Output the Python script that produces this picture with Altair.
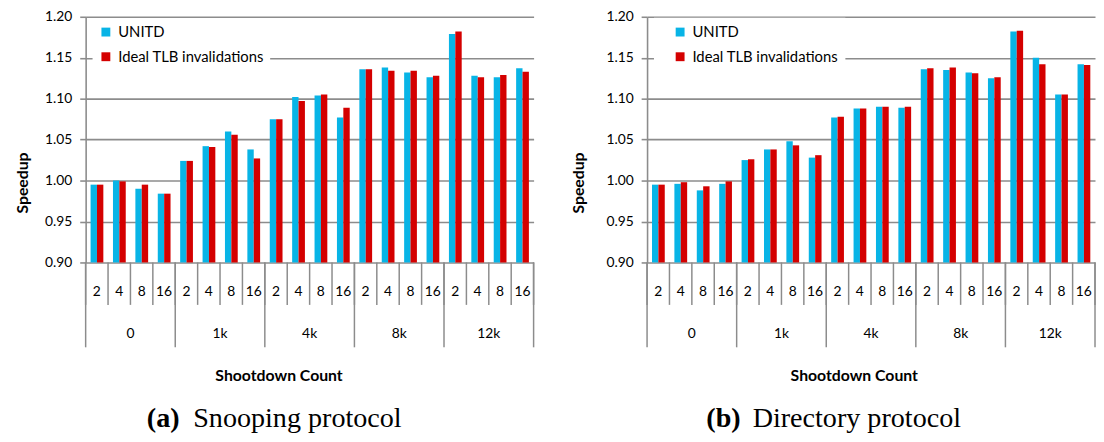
import altair as alt
import pandas as pd

groups = ["0", "1k", "4k", "8k", "12k"]
subs = ["2", "4", "8", "16"]
series = ["UNITD", "Ideal TLB invalidations"]
colors = ["#08b4e6", "#d40000"]
y_ticks = [0.90, 0.95, 1.00, 1.05, 1.10, 1.15, 1.20]

snoop_unitd = [0.995, 1.000, 0.990, 0.984, 1.024, 1.042, 1.060, 1.038,
               1.075, 1.102, 1.104, 1.077, 1.136, 1.138, 1.132, 1.126,
               1.179, 1.128, 1.126, 1.137]
snoop_ideal = [0.995, 0.999, 0.995, 0.984, 1.024, 1.041, 1.056, 1.027,
               1.075, 1.097, 1.105, 1.089, 1.136, 1.134, 1.134, 1.128,
               1.182, 1.126, 1.129, 1.133]
dir_unitd = [0.995, 0.996, 0.988, 0.996, 1.025, 1.038, 1.048, 1.028,
             1.077, 1.088, 1.090, 1.089, 1.136, 1.135, 1.132, 1.125,
             1.182, 1.150, 1.105, 1.142]
dir_ideal = [0.995, 0.998, 0.993, 0.999, 1.026, 1.038, 1.043, 1.031,
             1.078, 1.088, 1.090, 1.090, 1.137, 1.138, 1.131, 1.126,
             1.183, 1.142, 1.105, 1.141]

W, H = 454, 249
N = len(groups) * len(subs)
GRAY = "#8c8c8c"
FONT = "Lato"
SERIF = "Liberation Serif"

xscale = alt.Scale(domain=[0, N], nice=False, zero=False)
yscale = alt.Scale(domain=[0.9, 1.2], nice=False, zero=False)


def bars_df(unitd, ideal):
    rows = []
    for i in range(N):
        for s, vals in zip(series, (unitd, ideal)):
            rows.append({"idx": i, "group": groups[i // len(subs)],
                         "sub": subs[i % len(subs)], "series": s, "value": vals[i]})
    return pd.DataFrame(rows)


sub_df = pd.DataFrame({"idx": list(range(N)),
                       "sub": [subs[i % len(subs)] for i in range(N)]})
grp_df = pd.DataFrame({"gi": list(range(len(groups))), "group": groups})
sub_bounds = pd.DataFrame({"pos": list(range(N + 1))})
grp_bounds = pd.DataFrame({"pos": list(range(0, N + 1, len(subs)))})


def panel(unitd, ideal, tag, caption, title_x, xt_x, cap_tag_x, cap_x,
          leg_x, leg_y, leg_pad, sym_off):
    df = bars_df(unitd, ideal)
    bars = alt.Chart(df).transform_calculate(
        x0="datum.idx + (datum.series == 'UNITD' ? 0.22 : 0.505)",
        x1="datum.idx + (datum.series == 'UNITD' ? 0.505 : 0.79)",
    ).mark_bar().encode(
        x=alt.X("x0:Q", scale=xscale, axis=None),
        x2="x1:Q",
        y=alt.Y("value:Q", scale=yscale,
                axis=alt.Axis(values=y_ticks, format=".2f", title="Speedup",
                              grid=True, gridColor=GRAY, gridWidth=1.6,
                              domainColor=GRAY, domainWidth=1.6,
                              tickColor=GRAY, tickWidth=1.6, tickSize=6,
                              labelFont=FONT, labelFontSize=14, labelColor="black",
                              labelPadding=8,
                              titleFont=FONT, titleFontSize=16, titleFontWeight="bold",
                              titleColor="black", titleX=title_x, titleY=168,
                              titleAlign="center", titleBaseline="middle",
                              titleAngle=270)),
        y2=alt.datum(0.9),
        color=alt.Color("series:N", scale=alt.Scale(domain=series, range=colors),
                        legend=alt.Legend(title=None, orient="none",
                                          legendX=leg_x, legendY=leg_y,
                                          fillColor="white", padding=leg_pad,
                                          symbolType="square", symbolSize=81,
                                          symbolStrokeWidth=0, symbolOffset=sym_off,
                                          labelFont=FONT, labelFontSize=15,
                                          labelColor="black", labelOffset=5,
                                          rowPadding=9)),
    )
    sub_rules = alt.Chart(sub_bounds).mark_rule(color=GRAY, strokeWidth=1.5).encode(
        x=alt.X("pos:Q", scale=xscale, axis=None),
        y=alt.value(H), y2=alt.value(H + 43))
    grp_rules = alt.Chart(grp_bounds).mark_rule(color=GRAY, strokeWidth=1.5).encode(
        x=alt.X("pos:Q", scale=xscale, axis=None),
        y=alt.value(H), y2=alt.value(H + 86))
    sub_text = alt.Chart(sub_df).transform_calculate(xc="datum.idx + 0.5").mark_text(
        font=FONT, fontSize=14, color="black", baseline="middle", align="center"
    ).encode(x=alt.X("xc:Q", scale=xscale, axis=None), y=alt.value(H + 30), text="sub:N")
    grp_text = alt.Chart(grp_df).transform_calculate(
        xc=f"datum.gi * {len(subs)} + {len(subs) / 2}").mark_text(
        font=FONT, fontSize=14, color="black", baseline="middle", align="center"
    ).encode(x=alt.X("xc:Q", scale=xscale, axis=None), y=alt.value(H + 73), text="group:N")
    xt = alt.Chart(pd.DataFrame({"t": ["Shootdown Count"]})).mark_text(
        font=FONT, fontSize=16, fontWeight="bold", color="black",
        baseline="middle", align="center"
    ).encode(x=alt.value(xt_x), y=alt.value(H + 115), text="t:N")
    cap_tag = alt.Chart(pd.DataFrame({"t": [tag]})).mark_text(
        font=SERIF, fontSize=28.5, fontWeight="bold", color="black",
        baseline="alphabetic", align="left"
    ).encode(x=alt.value(cap_tag_x), y=alt.value(H + 167), text="t:N")
    cap = alt.Chart(pd.DataFrame({"t": [caption]})).mark_text(
        font=SERIF, fontSize=28.5, color="black", baseline="alphabetic", align="left"
    ).encode(x=alt.value(cap_x), y=alt.value(H + 167), text="t:N")
    return alt.layer(bars, sub_rules, grp_rules, sub_text, grp_text, xt, cap_tag, cap
                     ).properties(width=W, height=H)


left = panel(snoop_unitd, snoop_ideal, "(a)", "Snooping protocol",
             -64, 196, 62, 109, 7, 2, 6, 0)
right = panel(dir_unitd, dir_ideal, "(b)", "Directory protocol",
              -69, 210, 60, 107, 7, 1, 7, 12)

chart = alt.hconcat(left, right, spacing=37).resolve_scale(
    color="independent").resolve_legend(color="independent").properties(
    padding={"left": 6.7, "top": -1, "right": 0, "bottom": 0},
    background="white",
).configure_view(stroke=None)

chart.save("out.html", embed_options={"renderer": "svg", "actions": False})
